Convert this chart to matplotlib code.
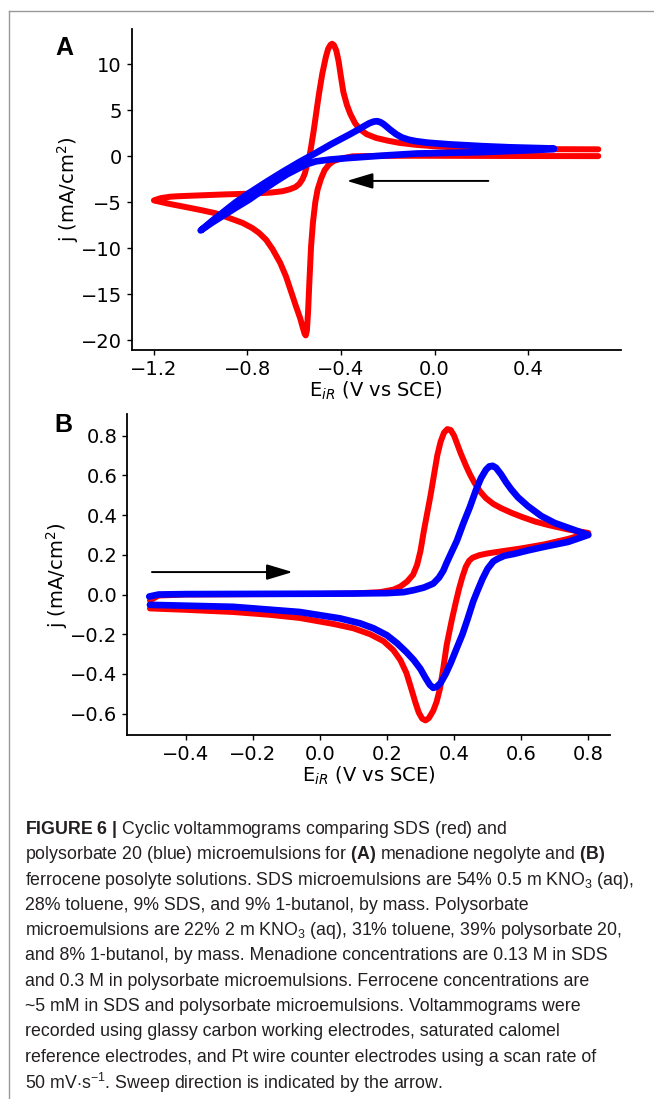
import matplotlib
matplotlib.use('Agg')
import matplotlib.pyplot as plt
from matplotlib.lines import Line2D

plt.rcParams['font.family'] = ['DejaVu Sans']
plt.rcParams['mathtext.fontset'] = 'dejavusans'
plt.rcParams['mathtext.rm'] = 'Liberation Sans'
plt.rcParams['mathtext.bf'] = 'Liberation Sans:bold'
plt.rcParams['mathtext.it'] = 'Liberation Sans:italic'

# Panel A: menadione negolyte (SDS red, polysorbate 20 blue)
a_sds_E = [0.70, 0.40, 0.10, -0.10, -0.25, -0.35, -0.40, -0.43, -0.45, -0.47, -0.485, -0.50, -0.51, -0.52,
           -0.528, -0.535, -0.541, -0.546, -0.551, -0.556, -0.564, -0.575, -0.593, -0.61, -0.635, -0.66,
           -0.693, -0.72, -0.75, -0.78, -0.82, -0.88, -0.936, -1.00, -1.079, -1.14, -1.20,
           -1.17, -1.13, -1.10, -1.00, -0.90, -0.79, -0.70, -0.65, -0.62, -0.595, -0.578, -0.565, -0.555,
           -0.545, -0.535, -0.528, -0.518, -0.51, -0.50, -0.493, -0.48, -0.465, -0.455, -0.445, -0.438,
           -0.43, -0.42, -0.41, -0.40, -0.39, -0.375, -0.36, -0.34, -0.32, -0.29, -0.25, -0.20, -0.15,
           -0.08, 0.0, 0.10, 0.20, 0.45, 0.70]
a_sds_j = [0.02, 0.03, 0.05, 0.06, 0.04, 0.0, -0.25, -0.5, -0.85, -1.5, -2.4, -3.6, -5.0, -7.2,
           -9.8, -13.5, -17.0, -19.0, -19.5, -19.3, -18.6, -17.6, -16.3, -15.0, -13.1, -11.6,
           -10.1, -9.1, -8.35, -7.8, -7.26, -6.7, -6.2, -5.85, -5.45, -5.15, -4.8,
           -4.55, -4.4, -4.35, -4.25, -4.15, -4.07, -3.95, -3.8, -3.6, -3.35, -3.0, -2.5, -1.9,
           -0.9, 0.0, 1.0, 2.6, 4.0, 5.8, 7.0, 9.0, 10.8, 11.7, 12.15, 12.25,
           12.1, 11.5, 10.3, 8.6, 7.0, 5.6, 4.6, 3.6, 2.95, 2.4, 2.0, 1.7, 1.46,
           1.25, 1.09, 0.95, 0.87, 0.78, 0.76]

a_pso_E = [0.51, 0.40, 0.30, 0.20, 0.10, -0.078, -0.22, -0.364, -0.45, -0.507, -0.545, -0.578, -0.63,
           -0.678, -0.73, -0.793, -0.85, -0.90, -0.95, -1.00,
           -0.95, -0.90, -0.85, -0.793, -0.72, -0.65, -0.58, -0.507, -0.44, -0.364, -0.33, -0.30, -0.279,
           -0.26, -0.245, -0.232, -0.218, -0.207, -0.19, -0.164, -0.14, -0.11, -0.078, -0.03, 0.064,
           0.207, 0.32, 0.51]
a_pso_j = [0.78, 0.65, 0.55, 0.45, 0.40, 0.30, 0.08, -0.18, -0.36, -0.55, -0.85, -1.27, -1.95,
           -2.72, -3.6, -4.72, -5.6, -6.4, -7.2, -8.07,
           -7.0, -6.0, -5.0, -4.0, -2.8, -1.7, -0.65, 0.37, 1.35, 2.37, 2.85, 3.3, 3.6,
           3.78, 3.82, 3.72, 3.5, 3.27, 2.9, 2.4, 2.05, 1.8, 1.64, 1.48, 1.3,
           1.1, 0.98, 0.85]

# Panel B: ferrocene posolyte
b_sds_E = [-0.506, -0.48, -0.40, -0.20, 0.0, 0.10, 0.18, 0.22, 0.24, 0.26, 0.278, 0.29, 0.30, 0.31,
           0.32, 0.33, 0.34, 0.35, 0.36, 0.37, 0.38, 0.39, 0.40, 0.41, 0.42, 0.435, 0.447, 0.46, 0.477,
           0.495, 0.517, 0.54, 0.57, 0.60, 0.64, 0.68, 0.74, 0.80,
           0.74, 0.668, 0.60, 0.543, 0.50, 0.475, 0.455, 0.445, 0.435, 0.425, 0.415, 0.405, 0.393,
           0.378, 0.368, 0.358, 0.348, 0.338, 0.325, 0.315, 0.305, 0.295, 0.285, 0.27, 0.258, 0.24,
           0.219, 0.19, 0.15, 0.10, 0.04, -0.06, -0.15, -0.258, -0.40, -0.506]
b_sds_j = [-0.03, -0.005, 0.0, 0.002, 0.003, 0.005, 0.012, 0.025, 0.04, 0.065, 0.10, 0.15, 0.22, 0.32,
           0.41, 0.50, 0.60, 0.70, 0.77, 0.815, 0.833, 0.828, 0.80, 0.755, 0.71, 0.65, 0.606, 0.565, 0.52,
           0.485, 0.456, 0.435, 0.412, 0.392, 0.368, 0.35, 0.327, 0.31,
           0.28, 0.252, 0.232, 0.218, 0.207, 0.198, 0.185, 0.17, 0.14, 0.09, 0.03, -0.04, -0.13,
           -0.254, -0.37, -0.474, -0.54, -0.585, -0.622, -0.634, -0.625, -0.595, -0.545, -0.46, -0.395, -0.33,
           -0.28, -0.235, -0.20, -0.17, -0.148, -0.118, -0.102, -0.088, -0.077, -0.07]

b_pso_E = [-0.508, -0.48, -0.40, -0.20, 0.0, 0.10, 0.20, 0.25, 0.28, 0.31, 0.338, 0.355, 0.368, 0.378,
           0.393, 0.408, 0.428, 0.447, 0.465, 0.48, 0.495, 0.505, 0.515, 0.525, 0.54, 0.555, 0.57, 0.59,
           0.62, 0.66, 0.70, 0.75, 0.80,
           0.74, 0.668, 0.62, 0.58, 0.55, 0.53, 0.517, 0.50, 0.485, 0.47, 0.457, 0.44, 0.425, 0.408,
           0.39, 0.375, 0.36, 0.348, 0.338, 0.328, 0.315, 0.30, 0.28, 0.258, 0.23, 0.20, 0.16, 0.12,
           0.06, -0.06, -0.258, -0.506]
b_pso_j = [-0.01, 0.0, 0.002, 0.003, 0.004, 0.005, 0.007, 0.012, 0.022, 0.035, 0.055, 0.085, 0.12, 0.16,
           0.215, 0.269, 0.36, 0.44, 0.525, 0.585, 0.628, 0.645, 0.648, 0.638, 0.605, 0.565, 0.53, 0.49,
           0.445, 0.395, 0.36, 0.33, 0.30,
           0.265, 0.24, 0.222, 0.205, 0.195, 0.18, 0.167, 0.13, 0.08, 0.02, -0.035, -0.125, -0.2, -0.27,
           -0.345, -0.4, -0.445, -0.465, -0.47, -0.455, -0.42, -0.375, -0.33, -0.29, -0.245, -0.205, -0.17,
           -0.145, -0.12, -0.088, -0.062, -0.052]

caption = [
    r'$\mathbf{FIGURE\ 6\ |}$ Cyclic voltammograms comparing SDS (red) and',
    r'polysorbate 20 (blue) microemulsions for $\mathbf{(A)}$ menadione negolyte and $\mathbf{(B)}$',
    r'ferrocene posolyte solutions. SDS microemulsions are 54% 0.5 m KNO$_3$ (aq),',
    '28% toluene, 9% SDS, and 9% 1-butanol, by mass. Polysorbate',
    r'microemulsions are 22% 2 m KNO$_3$ (aq), 31% toluene, 39% polysorbate 20,',
    'and 8% 1-butanol, by mass. Menadione concentrations are 0.13 M in SDS',
    'and 0.3 M in polysorbate microemulsions. Ferrocene concentrations are',
    '~5 mM in SDS and polysorbate microemulsions. Voltammograms were',
    'recorded using glassy carbon working electrodes, saturated calomel',
    'reference electrodes, and Pt wire counter electrodes using a scan rate of',
    r'50 mV$\cdot$s$^{-1}$. Sweep direction is indicated by the arrow.',
]

W, H = 654, 1099
fig = plt.figure(figsize=(W / 100, H / 100), dpi=100)

def style(ax):
    ax.spines['top'].set_visible(False)
    ax.spines['right'].set_visible(False)
    for s in ('left', 'bottom'):
        ax.spines[s].set_linewidth(1.3)
    ax.tick_params(labelsize=14, width=1.0, length=3.5)
    ax.set_xlabel(r'E$_{iR}$ (V vs SCE)', fontsize=14, labelpad=1)
    ax.set_ylabel(r'j (mA/cm$^2$)', fontsize=14, labelpad=0)

line_kw = dict(solid_capstyle='round', solid_joinstyle='round')
arrow_kw = dict(arrowstyle='-|>,head_length=0.8,head_width=0.24', color='black',
                lw=1.4, mutation_scale=20, shrinkA=0, shrinkB=0)

axA = fig.add_axes([131.7 / W, 1 - 350 / H, 488.8 / W, 320.8 / H])
axA.plot(a_sds_E, a_sds_j, color='#ff0000', lw=4.3, **line_kw)
axA.plot(a_pso_E, a_pso_j, color='#0000ff', lw=4.8, **line_kw)
axA.annotate('', xy=(-0.375, -2.68), xytext=(0.23, -2.68), arrowprops=arrow_kw)
axA.set_xticks([-1.2, -0.8, -0.4, 0.0, 0.4])
axA.set_yticks([-20, -15, -10, -5, 0, 5, 10])
style(axA)

axB = fig.add_axes([127.3 / W, 1 - 735 / H, 483 / W, 320.5 / H])
axB.plot(b_sds_E, b_sds_j, color='#ff0000', lw=4.3, **line_kw)
axB.plot(b_pso_E, b_pso_j, color='#0000ff', lw=4.8, **line_kw)
axB.annotate('', xy=(-0.081, 0.113), xytext=(-0.50, 0.113), arrowprops=arrow_kw)
axB.set_xticks([-0.4, -0.2, 0.0, 0.2, 0.4, 0.6, 0.8])
axB.set_yticks([-0.6, -0.4, -0.2, 0.0, 0.2, 0.4, 0.6, 0.8])
style(axB)

fig.text(64 / W, 1 - 48 / H, 'A', fontsize=18, fontweight='bold', family='Liberation Sans',
         ha='center', va='center')
fig.text(63 / W, 1 - 425 / H, 'B', fontsize=18, fontweight='bold', family='Liberation Sans',
         ha='center', va='center')

# frame lines of the figure page
fig.add_artist(Line2D([9 / W, 9 / W], [0, 1 - 11 / H], color='#999999', lw=1.0, transform=fig.transFigure))
fig.add_artist(Line2D([9 / W, 1], [1 - 11 / H, 1 - 11 / H], color='#999999', lw=1.0, transform=fig.transFigure))

y0 = 829.5
for i, line in enumerate(caption):
    fig.text(25 / W, 1 - (y0 + i * 25.3) / H, line, fontsize=12.8, family='Liberation Sans',
             color='#231f20', ha='left', va='center', math_fontfamily='custom')

fig.savefig('out.png', dpi=100)
